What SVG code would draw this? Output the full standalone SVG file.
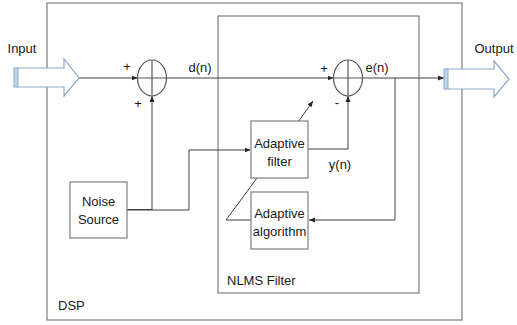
<svg xmlns="http://www.w3.org/2000/svg" width="517" height="325" viewBox="0 0 517 325">
<style>
.box{fill:none;stroke:#7f7f7f;stroke-width:1.2}
.nb{fill:#fff;stroke:#7f7f7f;stroke-width:1.2}
.ln{fill:none;stroke:#404040;stroke-width:1}
.sum{fill:none;stroke:#595959;stroke-width:1.2}
.bigarrow{fill:#fff;stroke:#8fa9c9;stroke-width:1.2}
.stripe{fill:#bdd7ee;stroke:#8fa9c9;stroke-width:1}
text{font-family:"Liberation Sans",Arial,sans-serif;font-size:13px;fill:#1a1a1a}
.c{text-anchor:middle}
</style>
<defs>
<marker id="ah" viewBox="0 0 6 6" refX="6" refY="3" markerWidth="6" markerHeight="6" markerUnits="userSpaceOnUse" orient="auto">
<path d="M0,0.5 L6,3 L0,5.5 z" fill="#262626"/>
</marker>
</defs>
<g id="dsp">
<rect class="box" x="47" y="3" width="415" height="317"/>
<text x="58" y="310">DSP</text>
</g>
<g id="nlms">
<rect class="box" x="218" y="16" width="201" height="277"/>
<text x="227" y="285">NLMS Filter</text>
</g>
<g id="connectors">
<path class="ln" d="M79,78 H137.5" marker-end="url(#ah)"/>
<path class="ln" d="M166.5,78 H333.5" marker-end="url(#ah)"/>
<path class="ln" d="M362.5,78 H444" marker-end="url(#ah)"/>
<path class="ln" d="M395,78 V220 H309" marker-end="url(#ah)"/>
<path class="ln" d="M127,210 H152 V96" marker-end="url(#ah)"/>
<path class="ln" d="M127,209.5 H152"/>
<path class="ln" d="M152,210 H189 V150 H250.5" marker-end="url(#ah)"/>
<path class="ln" d="M308,149 H348 V96" marker-end="url(#ah)"/>
<path class="ln" d="M298,122 L313,101" marker-end="url(#ah)"/>
<path class="ln" d="M251,220 H226 L257,178"/>
</g>
<g id="input">
<path class="bigarrow" d="M17,68 H64 V59 L79,78 L64,96 V87 H17 z"/>
<rect class="stripe" x="14" y="68" width="4" height="19"/>
<text class="c" x="22" y="53">Input</text>
</g>
<g id="output">
<path class="bigarrow" d="M447,69 H494 V61 L509,79 L494,97 V89 H447 z"/>
<rect class="stripe" x="444" y="69" width="4" height="20"/>
<text class="c" x="494" y="53">Output</text>
</g>
<g id="sum1">
<ellipse class="sum" cx="152" cy="78" rx="14.5" ry="18"/>
<path class="sum" d="M152,60 V96 M137.5,78 H166.5"/>
<text class="c" x="127" y="71">+</text>
<text class="c" x="138" y="108">+</text>
<text class="c" x="200" y="72">d(n)</text>
</g>
<g id="sum2">
<ellipse class="sum" cx="348" cy="78" rx="14.5" ry="18"/>
<path class="sum" d="M348,60 V96 M333.5,78 H362.5"/>
<text class="c" x="324" y="73">+</text>
<text class="c" x="337" y="107">-</text>
<text class="c" x="377" y="72">e(n)</text>
</g>
<g id="adaptive-filter">
<rect class="nb" x="251" y="121" width="57" height="57"/>
<text class="c" x="279.5" y="148">Adaptive</text>
<text class="c" x="279.5" y="166">filter</text>
<text class="c" x="340" y="169">y(n)</text>
</g>
<g id="adaptive-algorithm">
<rect class="nb" x="251" y="192" width="57" height="57"/>
<text class="c" x="279.5" y="218">Adaptive</text>
<text class="c" x="279.5" y="236">algorithm</text>
</g>
<g id="noise-source">
<rect class="nb" x="70" y="182" width="57" height="56"/>
<text class="c" x="98.5" y="206">Noise</text>
<text class="c" x="98.5" y="224">Source</text>
</g>
</svg>
